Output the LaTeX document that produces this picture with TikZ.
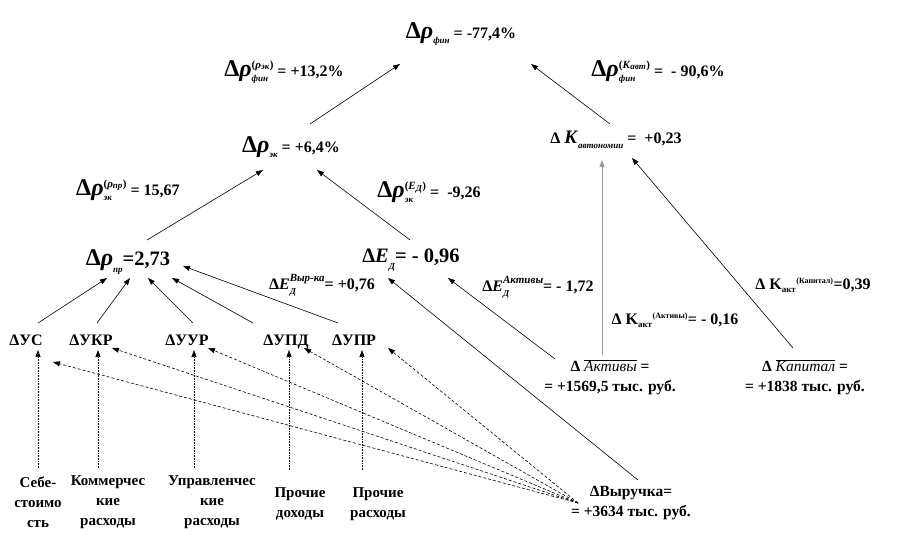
\documentclass[tikz,border=0pt]{standalone}
\usepackage{fontspec}
\setmainfont{Liberation Serif}
\usetikzlibrary{arrows.meta}
\newcommand\BigDR{{\fontsize{24}{24}\selectfont Δ\textit{ρ}}}
\newcommand\LowSub[1]{\lower0.7ex\hbox{\fontsize{9}{9}\selectfont\itshape #1}}
\newcommand\SupSub[2]{\begingroup
 \setbox0\hbox{\fontsize{11}{11}\selectfont #1}%
 \setbox2\hbox{\fontsize{9}{9}\selectfont\itshape #2}%
 \ifdim\wd0>\wd2 \dimen0=\wd0 \else \dimen0=\wd2 \fi
 \hbox to\dimen0{\rlap{\raise1.1ex\box0}\lower0.7ex\box2\hfil}\endgroup}
\newcommand\SupSm[1]{\textsuperscript{\fontsize{8}{8}\selectfont #1}}
\newcommand\SubSm[1]{\textsubscript{\fontsize{9}{9}\selectfont #1}}
\begin{document}
\begin{tikzpicture}[x=1pt,y=-1pt,
  lbl/.style={font=\bfseries\fontsize{16}{18}\selectfont, inner sep=1pt},
  unode/.style={lbl, anchor=base},
  big/.style={font=\bfseries\fontsize{20.5}{22}\selectfont, inner sep=1pt},
  two/.style={font=\bfseries\fontsize{15.5}{20}\selectfont, inner sep=1pt, align=center},
  bot/.style={font=\bfseries\fontsize{15}{20}\selectfont, inner sep=1pt, align=center},
  arr/.style={-{Triangle[length=7pt,width=5pt]}, line width=0.6pt},
  darr/.style={arr, densely dashed},
  varr/.style={arr, densely dotted}]
\fill[white] (0,0) rectangle (916,552);
\useasboundingbox (0,0) rectangle (916,552);
% nodes
\node[lbl] (fin) at (461,34) {\BigDR\LowSub{фин} = -77,4\%};
\node[lbl] (finA) at (284,72) {\BigDR\SupSub{(\textit{ρ}\SubSm{\itshape эк})}{фин} = +13,2\%};
\node[lbl] (finB) at (658,72) {\BigDR\SupSub{(\textit{K}\SubSm{\itshape авт})}{фин} = \ - 90,6\%};
\node[lbl] (ek) at (291,147) {\BigDR\LowSub{эк} = +6,4\%};
\node[lbl] (kavt) at (616,140) {Δ {\fontsize{19}{19}\selectfont\textit{K}}\LowSub{автономии} = \ +0,23};
\node[lbl] (ekA) at (128,190) {\BigDR\SupSub{(\textit{ρ}\SubSm{\itshape пр})}{эк} = 15,67};
\node[lbl] (ekB) at (429,192) {\BigDR\SupSub{(\textit{E}\SubSm{\itshape Д})}{эк} = \ -9,26};
\node[big] (pr) at (128,262) {\BigDR\LowSub{пр}=2,73};
\node[big] (ed) at (411,260) {Δ\textit{E}\LowSub{Д}= - 0,96};
\node[lbl] (edv) at (322,285) {Δ\textit{E}\SupSub{\itshape Выр-ка}{Д}= +0,76};
\node[lbl] (eda) at (538,287) {Δ\textit{E}\SupSub{\itshape Активы}{Д}= - 1,72};
\node[lbl] (kakt) at (675,320) {Δ K\SubSm{акт}\SupSm{(Активы)}= - 0,16};
\node[lbl] (kkap) at (813,285) {Δ K\SubSm{акт}\SupSm{(Капитал)}=0,39};
\node[two] (akt) at (610,377)
  {Δ $\overline{\hbox{\mdseries\itshape Активы}}$ =\\= +1569,5 тыс. руб.};
\node[two] (kap) at (805,377)
  {Δ $\overline{\hbox{\mdseries\itshape Капитал}}$ =\\= +1838 тыс. руб.};
\node[unode] (us) at (26,345) {ΔУС};
\node[unode] (ukr) at (91,345) {ΔУКР};
\node[unode] (uur) at (187,345) {ΔУУР};
\node[unode] (upd) at (286,345) {ΔУПД};
\node[unode] (upr) at (354,345) {ΔУПР};
\node[two] (vyr) at (631,503) {ΔВыручка=\\= +3634 тыс. руб.};
\node[bot] (seb) at (38,502) {Себе-\\стоимо\\сть};
\node[bot] (kom) at (108,502) {Коммерчес\\кие\\расходы};
\node[bot] (upv) at (212,502) {Управленчес\\кие\\расходы};
\node[bot] (pd) at (300,504) {Прочие\\доходы};
\node[bot] (prr) at (378,504) {Прочие\\расходы};
% connectors
\draw[arr] ([shift={(19,-23)}]ek.center) -- ([shift={(-61,30)}]fin.center);
\draw[arr] ([shift={(-6,-16)}]kavt.center) -- ([shift={(70,30)}]fin.center);
\draw[arr] ([shift={(19,-22)}]pr.center) -- ([shift={(-28,23)}]ek.center);
\draw[arr] ([shift={(-1,-20)}]ed.center) -- ([shift={(26,23)}]ek.center);
\draw[arr, gray!80, line width=1pt] ([shift={(-8,-22)}]akt.center) -- ([shift={(-14,20)}]kavt.center);
\draw[arr] ([shift={(-12,-29)}]kap.center) -- ([shift={(16,18)}]kavt.center);
\draw[arr] ([shift={(-55,-18)}]akt.center) -- ([shift={(37,18)}]ed.center);
\draw[arr] ([shift={(7,-23)}]vyr.center) -- ([shift={(-23,18)}]ed.center);
\draw[arr] ([shift={(12,-22)}]us.base) -- ([shift={(-21,16)}]pr.center);
\draw[arr] ([shift={(6,-22)}]ukr.base) -- ([shift={(2,16)}]pr.center);
\draw[arr] ([shift={(6,-22)}]uur.base) -- ([shift={(20,16)}]pr.center);
\draw[arr] ([shift={(-33,-22)}]upd.base) -- ([shift={(44,16)}]pr.center);
\draw[arr] ([shift={(-16,-22)}]upr.base) -- ([shift={(55,4)}]pr.center);
\draw[darr] ([shift={(-53,0)}]vyr.center) -- ([shift={(27,17)}]us.base);
\draw[darr] ([shift={(-53,0)}]vyr.center) -- ([shift={(21,3)}]ukr.base);
\draw[darr] ([shift={(-53,0)}]vyr.center) -- ([shift={(21,3)}]uur.base);
\draw[darr] ([shift={(-53,0)}]vyr.center) -- ([shift={(18,3)}]upd.base);
\draw[darr] ([shift={(-53,0)}]vyr.center) -- ([shift={(34,3)}]upr.base);
\draw[varr] ([shift={(0,-34)}]seb.center) -- ([shift={(12,5)}]us.base);
\draw[varr] ([shift={(-10,-34)}]kom.center) -- ([shift={(7,5)}]ukr.base);
\draw[varr] ([shift={(-18,-34)}]upv.center) -- ([shift={(7,5)}]uur.base);
\draw[varr] ([shift={(-11,-34)}]pd.center) -- ([shift={(3,5)}]upd.base);
\draw[varr] ([shift={(-16,-34)}]prr.center) -- ([shift={(8,5)}]upr.base);
\end{tikzpicture}
\end{document}
